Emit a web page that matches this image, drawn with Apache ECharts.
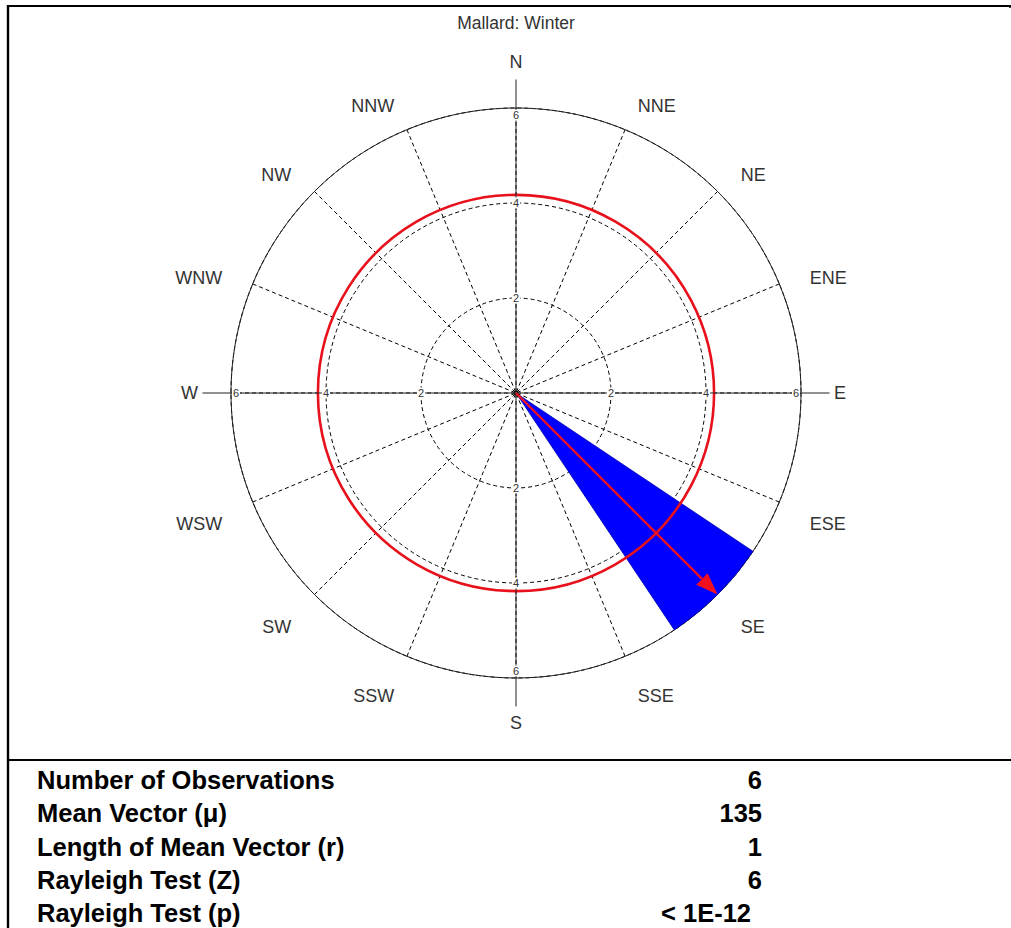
<!DOCTYPE html>
<html><head><meta charset="utf-8">
<script src="https://cdn.jsdelivr.net/npm/echarts@6/dist/echarts.min.js"></script>
<style>html,body{margin:0;padding:0;background:#fff}#chart{width:1011px;height:928px}</style>
</head><body><div id="chart"></div>
<script>
const chartTitle = 'Mallard: Winter';
const directions = ['N','NNE','NE','ENE','E','ESE','SE','SSE','S','SSW','SW','WSW','W','WNW','NW','NNW'];
const directionCounts = [0,0,0,0,0,0,6,0,0,0,0,0,0,0,0,0];
const sectorWidth = 22.5;
const radiusTicks = [2,4,6];
const radiusMax = 6;
const tickAxesAngles = [0,90,180,270];
const meanVectorAngle = 135;
const meanVectorLength = 1;
const criticalRadius = 4.17;
const statLabels = ['Number of Observations','Mean Vector (\u03bc)','Length of Mean Vector (r)','Rayleigh Test (Z)','Rayleigh Test (p)'];
const statValues = ['6','135','1','6','< 1E-12'];

const FONT = '"Liberation Sans", Arial, sans-serif';
const labelRadius = 6.695;
const axisExtension = 6.6;

const chart = echarts.init(document.getElementById('chart'), null, {renderer:'svg'});

function center(params){ return [params.coordSys.cx, params.coordSys.cy]; }

function renderWedge(params, api){
  const r = api.value(0), b = api.value(1);
  if (!r) return null;
  const [cx, cy] = center(params);
  const pA = api.coord([r, b - sectorWidth/2]);
  const pB = api.coord([r, b + sectorWidth/2]);
  return {
    type:'sector',
    shape:{cx, cy, r0:0, r:Math.hypot(pA[0]-cx, pA[1]-cy),
      startAngle:Math.atan2(pA[1]-cy, pA[0]-cx), endAngle:Math.atan2(pB[1]-cy, pB[0]-cx), clockwise:true},
    style:{fill:'#0000ff', stroke:'#0000b0', lineWidth:0.8}
  };
}
function renderCircle(params, api){
  const [cx, cy] = center(params);
  const p = api.coord([api.value(0), api.value(1)]);
  return {type:'circle', shape:{cx, cy, r:Math.hypot(p[0]-cx, p[1]-cy)},
    style:{fill:'none', stroke:'#e8101a', lineWidth:2.6}};
}
function renderCross(params, api){
  const [cx, cy] = center(params);
  const p = api.coord([api.value(0), api.value(1)]);
  return {type:'line', shape:{x1:cx, y1:cy, x2:p[0], y2:p[1]}, style:{stroke:'#222', lineWidth:1}};
}
function renderArrow(params, api){
  const [cx, cy] = center(params);
  const p = api.coord([api.value(0), api.value(1)]);
  const dx = p[0]-cx, dy = p[1]-cy, L = Math.hypot(dx, dy);
  const ux = dx/L, uy = dy/L, hl = 22, hw = 8;
  const bx = p[0]-ux*hl, by = p[1]-uy*hl;
  return {type:'group', children:[
    {type:'line', shape:{x1:cx, y1:cy, x2:bx, y2:by}, style:{stroke:'#f01020', lineWidth:2.4}},
    {type:'polygon', shape:{points:[[p[0],p[1]],[bx-uy*hw, by+ux*hw],[bx+uy*hw, by-ux*hw]]}, style:{fill:'#f01020'}}
  ]};
}
function renderDirLabel(params, api){
  const b = api.value(1);
  const p = api.coord([api.value(0), b]);
  const s = Math.sin(b*Math.PI/180), c = Math.cos(b*Math.PI/180);
  const align = s > 0.01 ? 'left' : (s < -0.01 ? 'right' : 'center');
  const vAlign = c > 0.01 ? 'bottom' : (c < -0.01 ? 'top' : 'middle');
  let oy = 0;
  if (c > 0.01 && Math.abs(s) > 0.01) oy = 16;
  if (c > 0.99) oy = -4;
  if (c < -0.99) oy = 3;
  return {type:'text', x:p[0], y:p[1]+oy,
    style:{text:directions[params.dataIndex], align, verticalAlign:vAlign, font:'18px '+FONT, fill:'#333'}};
}
function renderTickLabel(params, api){
  const [cx, cy] = center(params);
  const v = api.value(0), b = api.value(1);
  const p = api.coord([v, b]);
  let x = p[0], y = p[1];
  if (v === radiusMax){
    const L = Math.hypot(x-cx, y-cy);
    const inset = Math.abs(Math.sin(b*Math.PI/180)) > 0.5 ? 5 : 7;
    x -= (x-cx)/L*inset; y -= (y-cy)/L*inset;
  }
  return {type:'text', x, y, z2:10,
    style:{text:String(v), align:'center', verticalAlign:'middle', font:'11px '+FONT, fill:'#333',
      backgroundColor:'#fff', padding:[0,1]}};
}

const wedgeData = directionCounts.map((c,i)=>[c, i*sectorWidth]);
const dirLabelData = directions.map((d,i)=>[labelRadius, i*sectorWidth]);
const tickLabelData = [];
tickAxesAngles.forEach(a=>radiusTicks.forEach(t=>tickLabelData.push([t, a])));

const graphics = [
  {type:'text', x:516, y:23, style:{text:chartTitle, align:'center', verticalAlign:'middle', font:'17.5px '+FONT, fill:'#333'}},
  {type:'line', shape:{x1:7, y1:6, x2:1011, y2:6}, style:{stroke:'#000', lineWidth:2}},
  {type:'line', shape:{x1:1010, y1:6, x2:1010, y2:8}, style:{stroke:'#000', lineWidth:1.5}},
  {type:'line', shape:{x1:8, y1:5, x2:8, y2:928}, style:{stroke:'#000', lineWidth:2.4}},
  {type:'line', shape:{x1:8, y1:760, x2:1011, y2:760}, style:{stroke:'#000', lineWidth:2}}
];
statLabels.forEach((t,i)=>{
  const y = 780 + i*33.3;
  graphics.push({type:'text', x:37, y, style:{text:t, align:'left', verticalAlign:'middle', font:'bold 25.5px '+FONT, fill:'#000'}});
  const v = statValues[i];
  const numeric = !isNaN(Number(v));
  graphics.push({type:'text', x: numeric ? 762 : 751, y, style:{text:v, align:'right', verticalAlign:'middle', font:'bold 25.5px '+FONT, fill:'#000'}});
});

chart.setOption({
  animation:false,
  backgroundColor:'#fff',
  polar:{center:[516,393], radius:285},
  angleAxis:{type:'value', min:0, max:360, interval:sectorWidth, startAngle:90, clockwise:true,
    axisLine:{show:true, lineStyle:{color:'#222', width:1}},
    axisTick:{show:false}, axisLabel:{show:false},
    splitLine:{show:true, lineStyle:{color:'#000', width:1, type:[4,3]}}},
  radiusAxis:{type:'value', min:0, max:radiusMax, interval:2,
    axisLine:{show:false}, axisTick:{show:false}, axisLabel:{show:false},
    splitLine:{show:true, lineStyle:{color:'#000', width:1, type:[4,3]}}},
  series:[
    {type:'custom', coordinateSystem:'polar', z:2, silent:true, renderItem:renderWedge, data:wedgeData},
    {type:'custom', coordinateSystem:'polar', z:3, silent:true, renderItem:renderCircle, data:[[criticalRadius, 0]]},
    {type:'custom', coordinateSystem:'polar', z:4, silent:true, renderItem:renderCross, data:tickAxesAngles.map(a=>[axisExtension, a])},
    {type:'custom', coordinateSystem:'polar', z:5, silent:true, renderItem:renderArrow, data:[[meanVectorLength*radiusMax, meanVectorAngle]]},
    {type:'custom', coordinateSystem:'polar', z:6, silent:true, renderItem:renderTickLabel, data:tickLabelData},
    {type:'custom', coordinateSystem:'polar', z:6, silent:true, renderItem:renderDirLabel, data:dirLabelData}
  ],
  graphic:graphics
});
</script></body></html>
